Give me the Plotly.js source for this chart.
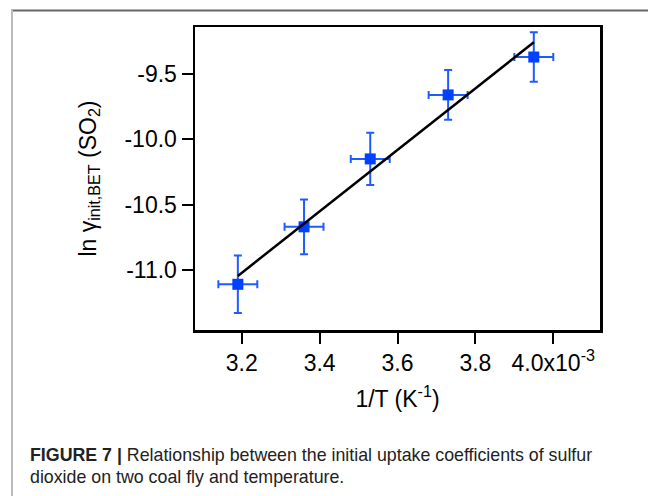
<!DOCTYPE html>
<html>
<head>
<meta charset="utf-8">
<script src="https://cdn.plot.ly/plotly-3.0.1.min.js"></script>
<style>
html,body{margin:0;padding:0;background:#fff;}
#chart{width:648px;height:496px;}
</style>
</head>
<body>
<div id="chart"></div>
<script>
// Data (x in units of 1e-3 K^-1)
var invT = [3.19, 3.36, 3.53, 3.73, 3.95];
var lnGamma = [-11.11, -10.67, -10.15, -9.66, -9.37];
var xErr = [0.05, 0.05, 0.05, 0.05, 0.05];
var yErr = [0.22, 0.21, 0.20, 0.19, 0.19];
var fitX = [3.19, 3.95];
var fitY = [-11.046, -9.257];
var xTickVals = [3.2, 3.4, 3.6, 3.8, 4.0];
var xTickText = ['3.2', '3.4', '3.6', '3.8', '4.0x10<sup>-3</sup>'];
var yTickVals = [-11.0, -10.5, -10.0, -9.5];
var yTickText = ['-11.0', '-10.5', '-10.0', '-9.5'];
var captionLine1 = '<b>FIGURE 7 |</b> Relationship between the initial uptake coefficients of sulfur';
var captionLine2 = 'dioxide on two coal fly and temperature.';

var L = 195, R = 600, T = 27, B = 330;
function px2x(p){ return (p - L) / (R - L); }
function px2y(p){ return (B - p) / (B - T); }

var FONT = 'Liberation Sans, Arial, sans-serif';

var traces = [
  {
    x: invT, y: lnGamma, type: 'scatter', mode: 'markers',
    marker: {symbol: 'square', size: 11, color: '#0040ff'},
    error_x: {type: 'data', array: xErr, visible: true, color: '#1f5cff', thickness: 2, width: 4},
    error_y: {type: 'data', array: yErr, visible: true, color: '#1f5cff', thickness: 2, width: 4},
    showlegend: false, hoverinfo: 'none'
  },
  {
    x: fitX, y: fitY, type: 'scatter', mode: 'lines',
    line: {color: '#000000', width: 2.5},
    showlegend: false, hoverinfo: 'none'
  }
];

var axisCommon = {
  showline: true, mirror: true, linewidth: 2.5, linecolor: '#000',
  ticks: 'outside', ticklen: 11, tickwidth: 2, tickcolor: '#000',
  showgrid: false, zeroline: false, automargin: false,
  tickfont: {family: FONT, size: 23, color: '#000'}
};

var layout = {
  width: 648, height: 496,
  margin: {l: L, r: 648 - R, t: T, b: 496 - B},
  paper_bgcolor: '#fff', plot_bgcolor: '#fff',
  font: {family: FONT, size: 23, color: '#000'},
  xaxis: Object.assign({}, axisCommon, {
    range: [3.08, 4.12], tickmode: 'array', tickvals: xTickVals, ticktext: xTickText,
    title: {text: '1/T (K<sup>-1</sup>)', standoff: 16, font: {family: FONT, size: 23, color: '#000'}}
  }),
  yaxis: Object.assign({}, axisCommon, {
    range: [-11.46, -9.14], tickmode: 'array', tickvals: yTickVals, ticktext: yTickText,
    title: {text: 'ln γ<sub>init,BET</sub> (SO<sub>2</sub>)', standoff: 22, font: {family: FONT, size: 23, color: '#000'}}
  }),
  shapes: [
    {type: 'line', xref: 'paper', yref: 'paper', x0: px2x(11), x1: px2x(648), y0: px2y(10.5), y1: px2y(10.5),
     line: {color: '#666', width: 2}},
    {type: 'line', xref: 'paper', yref: 'paper', x0: px2x(12), x1: px2x(12), y0: px2y(10), y1: px2y(496),
     line: {color: '#bbb', width: 2}}
  ],
  annotations: [
    {xref: 'paper', yref: 'paper', x: px2x(28), y: px2y(455), xanchor: 'left', yanchor: 'middle',
     text: captionLine1, showarrow: false, align: 'left',
     font: {family: FONT, size: 17.8, color: '#222'}},
    {xref: 'paper', yref: 'paper', x: px2x(28), y: px2y(477), xanchor: 'left', yanchor: 'middle',
     text: captionLine2, showarrow: false, align: 'left',
     font: {family: FONT, size: 17.8, color: '#222'}}
  ]
};

Plotly.newPlot('chart', traces, layout, {displayModeBar: false, staticPlot: true});
</script>
</body>
</html>
